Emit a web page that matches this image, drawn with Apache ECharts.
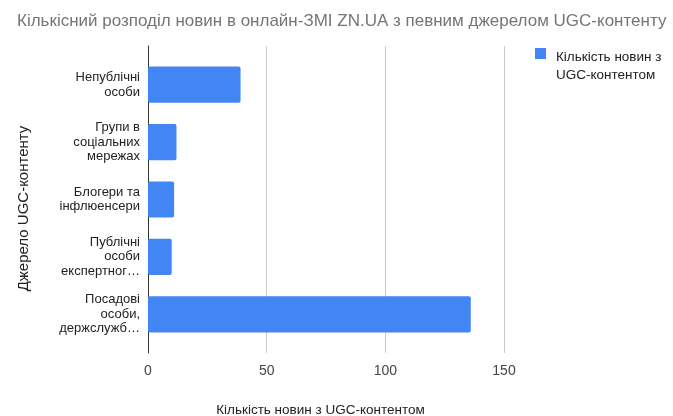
<!DOCTYPE html>
<html lang="uk">
<head>
    <meta charset="utf-8">
    <title>Кількісний розподіл новин</title>
    <script src="https://cdn.jsdelivr.net/npm/echarts@6/dist/echarts.min.js"></script>
    <style>
        html, body { margin: 0; padding: 0; background: #fff; }
        #main { width: 673px; height: 416px; }
    </style>
</head>
<body>
<div id="main"></div>
<script>
    var categories = [
        'Непублічні\nособи',
        'Групи в\nсоціальних\nмережах',
        'Блогери та\nінфлюенсери',
        'Публічні\nособи\nекспертног…',
        'Посадові\nособи,\nдержслужб…'
    ];
    var counts = [39, 12, 11, 10, 136];
    var seriesName = 'Кількість новин з\nUGC-контентом';
    var xTicks = [0, 50, 100, 150];

    var font = 'Liberation Sans, Arial, sans-serif';
    var chart = echarts.init(document.getElementById('main'));

    var option = {
        animation: false,
        textStyle: { fontFamily: font },
        title: {
            text: 'Кількісний розподіл новин в онлайн-ЗМІ ZN.UA з певним джерелом UGC-контенту',
            left: 12,
            top: 8,
            textStyle: { fontSize: 17, fontWeight: 'normal', color: '#757575', fontFamily: font }
        },
        legend: {
            left: 530,
            top: 43,
            itemWidth: 11,
            itemHeight: 36,
            // square sits at the top of a tall icon box, next to the first text line
            icon: 'path://M0,0L11,0L11,11L0,11Z M0,36L0.01,36',
            textStyle: { fontSize: 13.5, color: '#222', lineHeight: 18, padding: [0, 0, 0, 5] },
            data: [seriesName]
        },
        grid: [{
            // outer frame: gridlines + axis line
            left: 148, right: 169, top: 46, bottom: 63,
            outerBoundsMode: 'none'
        }, {
            // bars
            left: 148, right: 169, top: 56, bottom: 73,
            outerBoundsMode: 'none'
        }],
        xAxis: [{
            type: 'value',
            gridIndex: 0,
            min: 0, max: 150, interval: 50,
            axisLine: { show: false },
            axisTick: { show: false },
            axisLabel: {
                margin: 11, fontSize: 14, color: '#444',
                customValues: xTicks
            },
            splitLine: { lineStyle: { color: '#cccccc', width: 1 } },
            name: 'Кількість новин з UGC-контентом',
            nameLocation: 'middle',
            nameGap: 50,
            nameTextStyle: { fontSize: 13.5, color: '#222', padding: [0, 11, 0, 0] }
        }, {
            type: 'value',
            gridIndex: 1,
            min: 0, max: 150,
            show: false
        }],
        yAxis: [{
            type: 'value',
            gridIndex: 0,
            axisLine: { show: true, onZero: false, lineStyle: { color: '#333', width: 1 } },
            axisTick: { show: false },
            axisLabel: { show: false },
            splitLine: { show: false },
            name: 'Джерело UGC-контенту',
            nameLocation: 'middle',
            nameRotate: 90,
            nameGap: 117,
            nameTextStyle: { fontSize: 15, color: '#222', padding: [0, 18, 0, 0] }
        }, {
            type: 'category',
            gridIndex: 1,
            inverse: true,
            data: categories,
            axisLine: { show: false },
            axisTick: { show: false },
            axisLabel: {
                margin: 8, fontSize: 13, color: '#222', lineHeight: 14.5, align: 'right'
            }
        }],
        series: [{
            name: seriesName,
            type: 'bar',
            xAxisIndex: 1,
            yAxisIndex: 1,
            data: counts,
            barCategoryGap: '37%',
            itemStyle: { color: '#4285f4', borderRadius: 2 }
        }]
    };
    chart.setOption(option);
</script>
</body>
</html>
